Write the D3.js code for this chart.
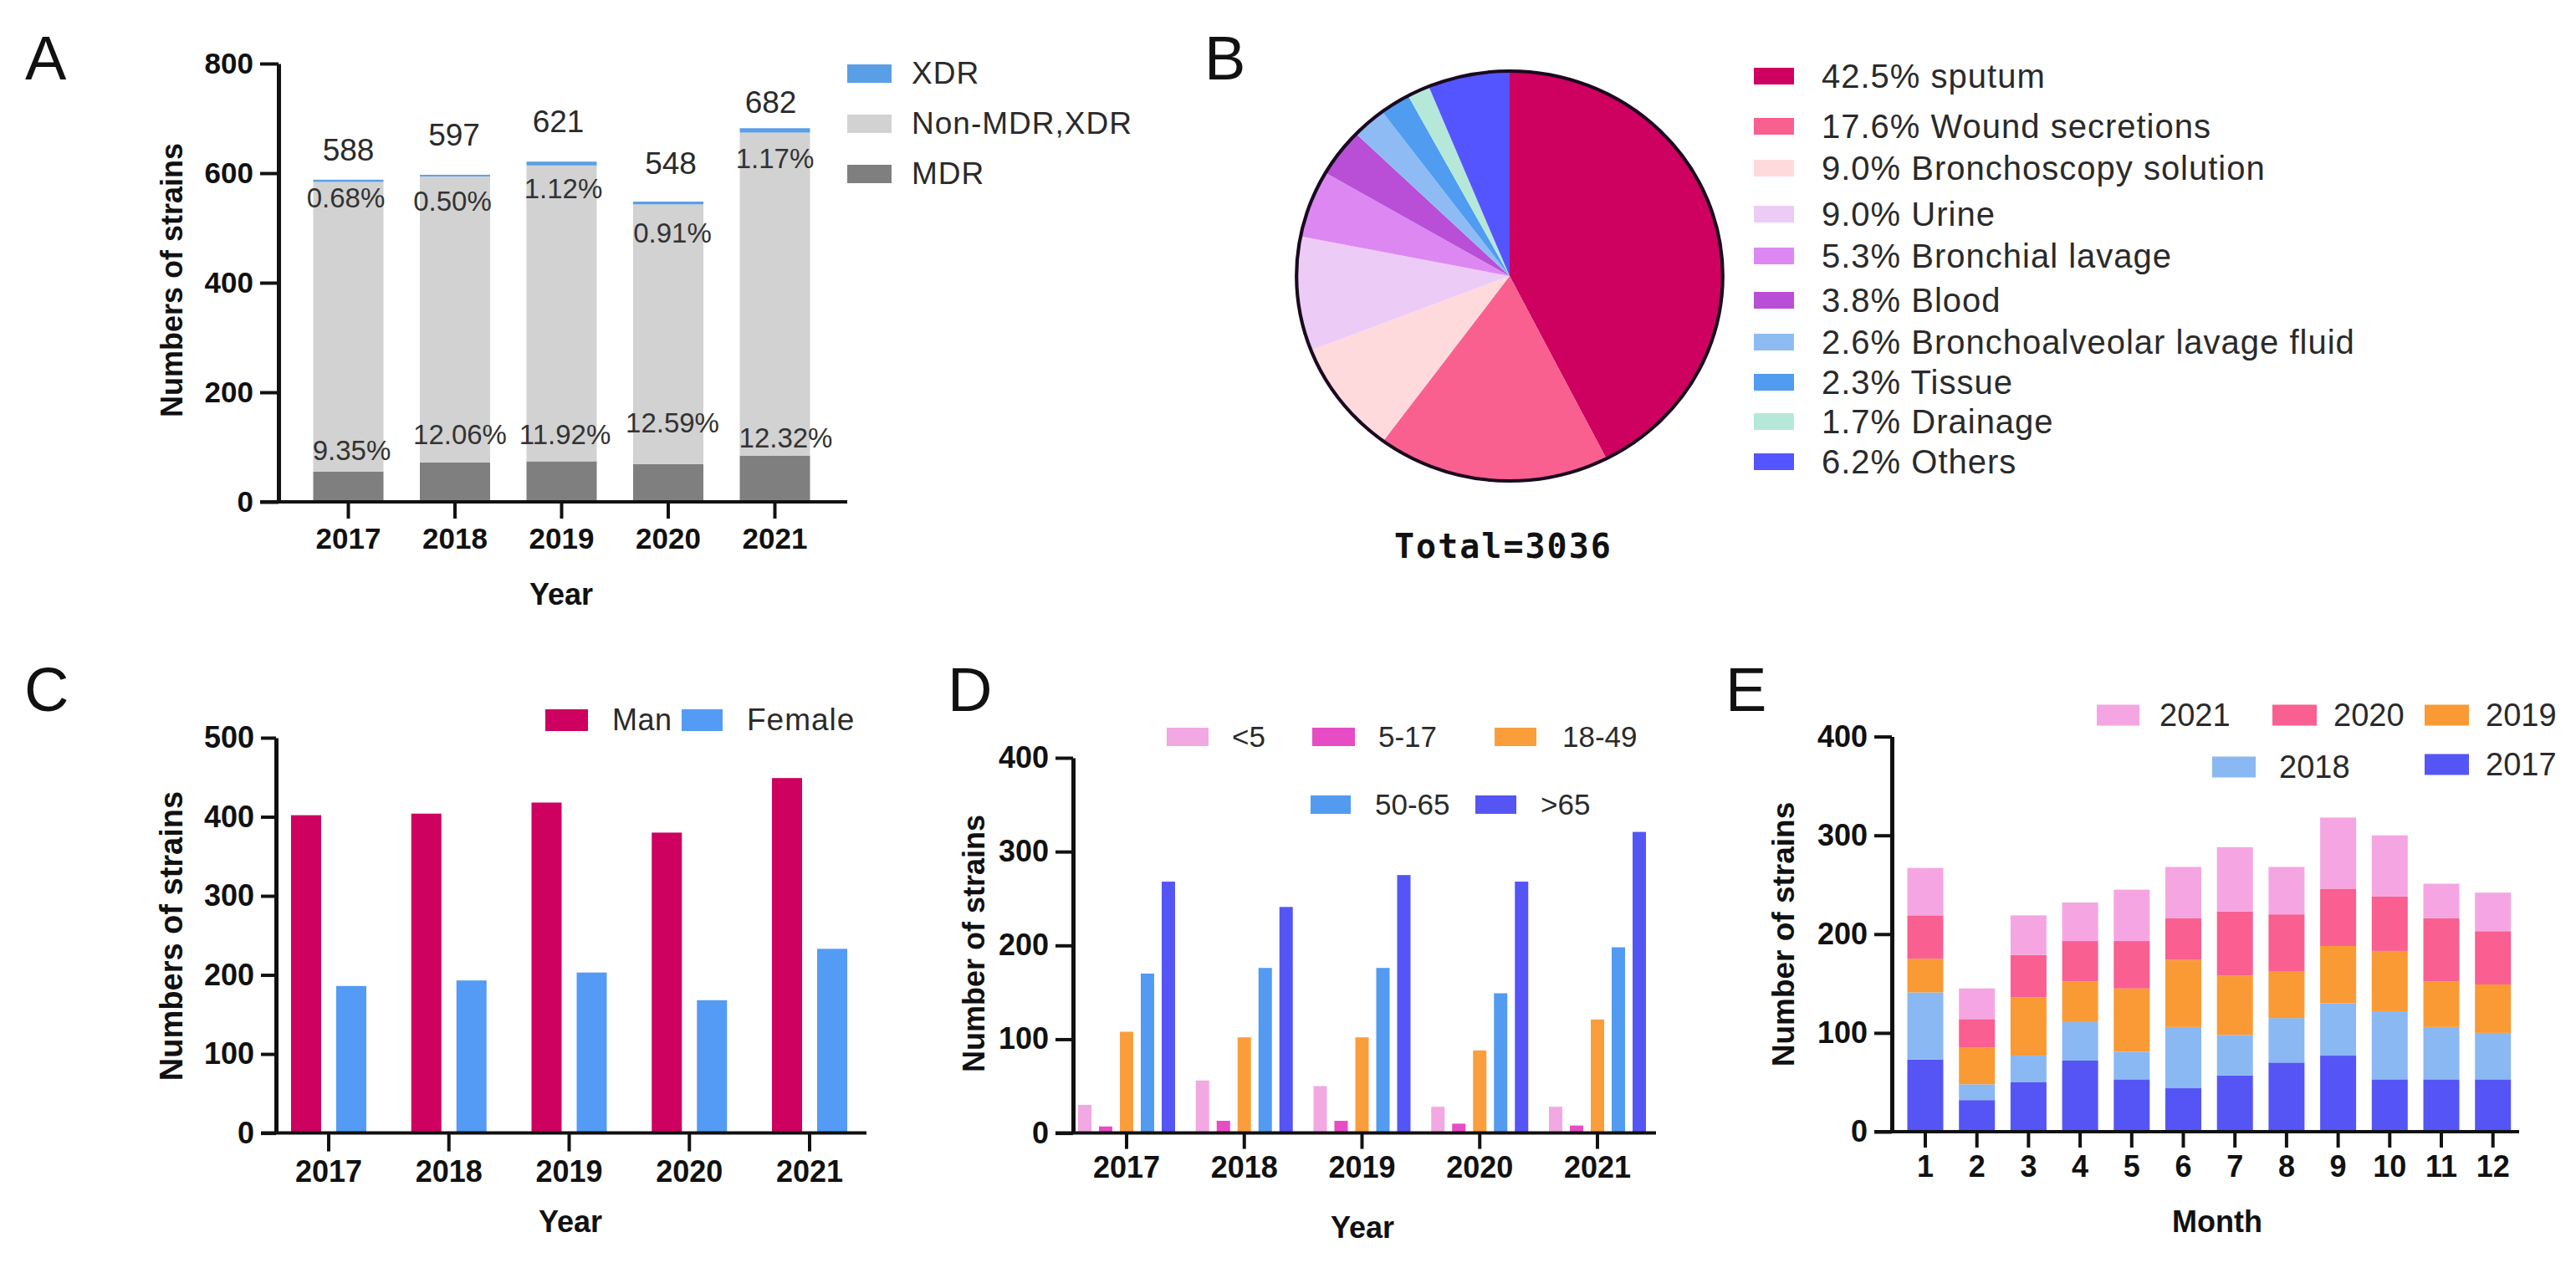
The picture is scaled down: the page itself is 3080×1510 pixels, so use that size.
<!DOCTYPE html>
<html><head><meta charset="utf-8">
<script src="https://cdn.jsdelivr.net/npm/d3@7/dist/d3.min.js"></script>
<style>
html,body{margin:0;padding:0;background:#fff}
svg{display:block}
text{font-family:"Liberation Sans",Arial,sans-serif}
</style></head><body>
<svg id="fig" width="3080" height="1510" viewBox="0 0 3080 1510"></svg>
<script>
// ---------- data ----------
const years = ["2017","2018","2019","2020","2021"];
const months = ["1","2","3","4","5","6","7","8","9","10","11","12"];

// Panel A
const totalsA = [588,597,621,548,682];
const mdrA = [55,72,74,69,84];
const xdrA = [4,3,7,5,8];
const nonA = [529,522,540,474,590];
const xdrPct = ["0.68%","0.50%","1.12%","0.91%","1.17%"];
const mdrPct = ["9.35%","12.06%","11.92%","12.59%","12.32%"];
const legendA = ["XDR","Non-MDR,XDR","MDR"];

// Panel B
const sourceNames = ["sputum","Wound secretions","Bronchoscopy solution","Urine","Bronchial lavage","Blood","Bronchoalveolar lavage fluid","Tissue","Drainage","Others"];
const sourcePct = [42.5,17.6,9.0,9.0,5.3,3.8,2.6,2.3,1.7,6.2];
const sourceColors = ["#CE0060","#F9608F","#FFDADD","#EDCBF7","#DD88F2","#B84FD6","#8FBBF5","#509CF0","#B5E8D8","#5555FF"];

// Panel C
const manC = [402,404,418,380,449];
const femaleC = [186,193,203,168,233];

// Panel D
const ageLabels = ["<5","5-17","18-49","50-65",">65"];
const age0 = [30,56,50,28,28];
const age1 = [7,13,13,10,8];
const age2 = [108,102,102,88,121];
const age3 = [170,176,176,149,198];
const age4 = [268,241,275,268,321];
const ageColors = ["#F2A8E2","#E84CC4","#FA9E3C","#529BF0","#5555F5"];

// Panel E
const m2017 = [73,32,50,72,53,44,57,70,77,53,53,53];
const m2018 = [68,16,27,39,28,62,41,45,53,69,53,47];
const m2019 = [34,37,59,41,64,68,60,47,58,61,46,49];
const m2020 = [44,29,43,41,48,42,65,58,58,55,64,54];
const m2021 = [48,31,40,39,52,52,65,48,72,62,35,39];
const monthYears = ["2017","2018","2019","2020","2021"];
const monthColors = ["#5555F5","#8AB8F2","#FA9A35","#F95F90","#F5A6E2"];

// ---------- helpers ----------
const svg = d3.select("#fig");
const BLK = "#111";

function txt(x,y,s,o={}){
  const t = svg.append("text").attr("x",x).attr("y",y).text(s)
    .attr("font-size",o.size||36).attr("fill",o.fill||"#2a2a2a")
    .attr("font-weight",o.weight||"normal")
    .attr("text-anchor",o.anchor||"start");
  if(o.family) t.style("font-family",o.family);
  if(o.ls) t.attr("letter-spacing",o.ls);
  if(o.rotate) t.attr("transform",`rotate(${o.rotate} ${x} ${y})`);
  return t;
}
function swatch(x0,x1,yc,h,fill){
  svg.append("rect").attr("x",x0).attr("y",yc-h/2).attr("width",x1-x0).attr("height",h).attr("fill",fill);
}
function axes(c){
  const {x,y,x0,xEnd,yTicks,tickY,tickX,yFont,xFont,padY,padX} = c;
  const gy = svg.append("g").attr("transform",`translate(${x0},0)`)
    .call(d3.axisLeft(y).tickValues(yTicks).tickFormat(d3.format("d")).tickSize(tickY).tickSizeOuter(0).tickPadding(padY));
  gy.select(".domain").attr("stroke",BLK).attr("stroke-width",5);
  gy.selectAll(".tick line").attr("stroke",BLK).attr("stroke-width",4);
  gy.selectAll(".tick text").attr("font-size",yFont).attr("font-weight","bold").attr("fill",BLK)
    .style("font-family",'"Liberation Sans",Arial,sans-serif');
  const gx = svg.append("g").attr("transform",`translate(0,${y(0)})`)
    .call(d3.axisBottom(x).tickSize(tickX).tickSizeOuter(0).tickPadding(padX));
  gx.select(".domain").remove();
  gx.selectAll(".tick line").attr("stroke",BLK).attr("stroke-width",4);
  gx.selectAll(".tick text").attr("font-size",xFont).attr("font-weight","bold").attr("fill",BLK)
    .style("font-family",'"Liberation Sans",Arial,sans-serif');
  svg.append("line").attr("x1",x0-tickY).attr("x2",xEnd).attr("y1",y(0)).attr("y2",y(0))
    .attr("stroke",BLK).attr("stroke-width",4);
}
function center(x,d){return x(d)+x.bandwidth()/2;}

// ---------- panel letters ----------
[["A",30,95],["B",1440,95],["C",29,850],["D",1133,850],["E",2063,850]].forEach(([s,x,y])=>
  txt(x,y,s,{size:74,fill:"#111"}));

// ---------- Panel A ----------
{
  const x = d3.scaleBand().domain(years).range([352.75,990.25]);
  const y = d3.scaleLinear().domain([0,800]).range([600,76]);
  const rows = years.map((yr,i)=>({year:yr,MDR:mdrA[i],Non:nonA[i],XDR:xdrA[i]}));
  const stack = d3.stack().keys(["MDR","Non","XDR"])(rows);
  const colors = {MDR:"#7F7F7F",Non:"#D2D2D2",XDR:"#5A9FE6"};
  const bw = 84;
  stack.forEach(s=>{
    svg.append("g").selectAll("rect").data(s).join("rect")
      .attr("x",d=>center(x,d.data.year)-bw/2).attr("width",bw)
      .attr("y",d=>y(d[1])).attr("height",d=>y(d[0])-y(d[1]))
      .attr("fill",colors[s.key]);
  });
  axes({x,y,x0:333,xEnd:1013,yTicks:[0,200,400,600,800],tickY:22,tickX:20,yFont:35,xFont:35,padY:8,padX:11});
  const totalY = [192,174,158,208,135], totalDx=[0,-1,-4,3,-5];
  years.forEach((yr,i)=>txt(center(x,yr)+totalDx[i],totalY[i],totalsA[i],{size:37,anchor:"middle"}));
  const pY=[248,252,237,290,201], pDx=[-3,-3,2,5,0];
  years.forEach((yr,i)=>txt(center(x,yr)+pDx[i],pY[i],xdrPct[i],{size:33,anchor:"middle",fill:"#333"}));
  const mY=[550,531,531,517,535], mDx=[4,6,4,5,13];
  years.forEach((yr,i)=>txt(center(x,yr)+mDx[i],mY[i],mdrPct[i],{size:33,anchor:"middle",fill:"#333"}));
  txt(218,335,"Numbers of strains",{size:36,weight:"bold",anchor:"middle",rotate:-90,fill:BLK});
  txt(671,723,"Year",{size:36,weight:"bold",anchor:"middle",fill:BLK});
  const ly=[88,148,208];
  legendA.forEach((s,i)=>{
    swatch(1013,1066,ly[i],22,[colors.XDR,colors.Non,colors.MDR][i]);
    txt(1090,ly[i]+12,s,{size:37,ls:1});
  });
}

// ---------- Panel B ----------
{
  const g = svg.append("g").attr("transform","translate(1805,330) scale(1.04,1)");
  const pie = d3.pie().value(d=>d).sort(null).startAngle(0).endAngle(2*Math.PI)(sourcePct);
  const arc = d3.arc().innerRadius(0).outerRadius(245);
  g.selectAll("path").data(pie).join("path").attr("d",arc).attr("fill",(d,i)=>sourceColors[i]);
  g.append("circle").attr("r",245).attr("fill","none").attr("stroke","#1a0a20").attr("stroke-width",4);
  txt(1667,667,"Total=3036",{size:40,weight:"bold",fill:"#111",family:'"DejaVu Sans Mono",monospace',ls:2});
  const ly=[91,151,201,256,306,359,409,457,504,552];
  sourceNames.forEach((s,i)=>{
    swatch(2097,2145,ly[i],20,sourceColors[i]);
    txt(2178,ly[i]+14,d3.format(".1f")(sourcePct[i])+"% "+s,{size:40,ls:1});
  });
}

// ---------- Panel C ----------
{
  const x = d3.scaleBand().domain(years).range([321.1,1039.9]);
  const y = d3.scaleLinear().domain([0,500]).range([1354.6,882]);
  const inner = d3.scaleBand().domain(["Man","Female"]).range([-54,54]);
  const colors = {Man:"#CE0060",Female:"#539BF5"};
  const bw = 36;
  const series = [["Man",manC],["Female",femaleC]];
  series.forEach(([k,v])=>{
    svg.append("g").selectAll("rect").data(v).join("rect")
      .attr("x",(d,i)=>center(x,years[i])+inner(k)+inner.bandwidth()/2-bw/2).attr("width",bw)
      .attr("y",d=>y(d)).attr("height",d=>y(0)-y(d)).attr("fill",colors[k]);
  });
  axes({x,y,x0:330,xEnd:1036,yTicks:[0,100,200,300,400,500],tickY:18,tickX:22,yFont:36,xFont:36,padY:8,padX:11});
  txt(218,1119,"Numbers of strains",{size:38,weight:"bold",anchor:"middle",rotate:-90,fill:BLK});
  txt(682,1473,"Year",{size:36,weight:"bold",anchor:"middle",fill:BLK});
  swatch(652,703,861,26,colors.Man); txt(732,873,"Man",{size:36,ls:0.5});
  swatch(815,864,861,26,colors.Female); txt(893,873,"Female",{size:37,ls:1});
}

// ---------- Panel D ----------
{
  const x = d3.scaleBand().domain(years).range([1276.6,1980.4]);
  const y = d3.scaleLinear().domain([0,400]).range([1354.6,906]);
  const inner = d3.scaleBand().domain(ageLabels).range([-62.5,62.5]);
  const bw = 16;
  [age0,age1,age2,age3,age4].forEach((v,k)=>{
    svg.append("g").selectAll("rect").data(v).join("rect")
      .attr("x",(d,i)=>center(x,years[i])+inner(ageLabels[k])+inner.bandwidth()/2-bw/2).attr("width",bw)
      .attr("y",d=>y(d)).attr("height",d=>y(0)-y(d)).attr("fill",ageColors[k]);
  });
  axes({x,y,x0:1283,xEnd:1980,yTicks:[0,100,200,300,400],tickY:21,tickX:19,yFont:36,xFont:36,padY:8,padX:9});
  txt(1177,1128,"Number of strains",{size:36,weight:"bold",anchor:"middle",rotate:-90,fill:BLK});
  txt(1629,1480,"Year",{size:36,weight:"bold",anchor:"middle",fill:BLK});
  const pos = [[1395,1445,881,1473],[1569,1620,881,1648],[1787,1837,881,1868],[1567,1615,962,1644],[1764,1813,962,1842]];
  ageLabels.forEach((s,i)=>{
    const [a,b,yc,tx]=pos[i];
    swatch(a,b,yc,22,ageColors[i]);
    txt(tx,yc+12,s,{size:35});
  });
}

// ---------- Panel E ----------
{
  const x = d3.scaleBand().domain(months).range([2271.15,3011.55]);
  const y = d3.scaleLinear().domain([0,400]).range([1353,880.6]);
  const rows = months.map((m,i)=>({month:m,"2017":m2017[i],"2018":m2018[i],"2019":m2019[i],"2020":m2020[i],"2021":m2021[i]}));
  const stack = d3.stack().keys(monthYears)(rows);
  const bw = 43;
  stack.forEach((s,k)=>{
    svg.append("g").selectAll("rect").data(s).join("rect")
      .attr("x",d=>center(x,d.data.month)-bw/2).attr("width",bw)
      .attr("y",d=>y(d[1])).attr("height",d=>y(d[0])-y(d[1]))
      .attr("fill",monthColors[k]);
  });
  axes({x,y,x0:2262,xEnd:3012,yTicks:[0,100,200,300,400],tickY:21,tickX:19,yFont:36,xFont:36,padY:8,padX:9});
  txt(2145,1117,"Number of strains",{size:37,weight:"bold",anchor:"middle",rotate:-90,fill:BLK});
  txt(2651,1473,"Month",{size:36,weight:"bold",anchor:"middle",fill:BLK});
  const pos = {"2021":[2507,2558,855,2582],"2020":[2717,2770,855,2790],"2019":[2899,2952,855,2972],"2018":[2645,2697,917,2725],"2017":[2899,2952,914,2972]};
  monthYears.forEach((s,i)=>{
    const [a,b,yc,tx]=pos[s];
    swatch(a,b,yc,25,monthColors[i]);
    txt(tx,yc+13,s,{size:38});
  });
}
</script>
</body></html>
